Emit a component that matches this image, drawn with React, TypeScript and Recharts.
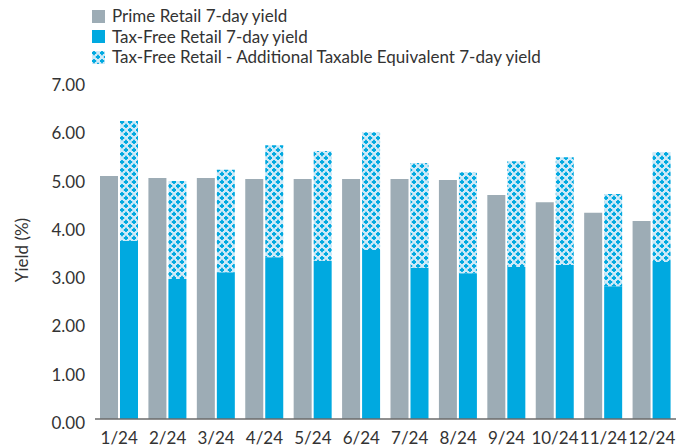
import React from "react"
import { BarChart, Bar, XAxis, YAxis } from "recharts"

const months = ["1/24", "2/24", "3/24", "4/24", "5/24", "6/24", "7/24", "8/24", "9/24", "10/24", "11/24", "12/24"]
const primeYield = [5.03, 4.99, 4.99, 4.97, 4.97, 4.97, 4.97, 4.95, 4.64, 4.49, 4.27, 4.10]
const taxFreeYield = [3.69, 2.90, 3.04, 3.35, 3.27, 3.50, 3.13, 3.02, 3.15, 3.19, 2.75, 3.25]
const additionalTaxEquivalent = [2.48, 2.03, 2.12, 2.32, 2.28, 2.44, 2.17, 2.09, 2.19, 2.23, 1.91, 2.28]
const yTicks = [0, 1, 2, 3, 4, 5, 6, 7]

const GRAY = "#9dacb5"
const BLUE = "#00a9e0"
const TEXT = "#333333"
const FONT = "Lato, 'Noto Sans', sans-serif"

const data = months.map((m, i) => ({
  month: m,
  prime: primeYield[i],
  taxFree: taxFreeYield[i],
  additional: additionalTaxEquivalent[i],
}))

const legendItems = [
  { label: "Prime Retail 7-day yield", fill: GRAY },
  { label: "Tax-Free Retail 7-day yield", fill: BLUE },
  { label: "Tax-Free Retail - Additional Taxable Equivalent 7-day yield", fill: "url(#dots)" },
]

// pattern for the taxable-equivalent part (light blue with blue plus dots)
const DotsPattern = ({ id }: { id: string }) => (
  <pattern id={id} patternUnits="userSpaceOnUse" width="8" height="8">
    <rect width="8" height="8" fill="#cfeaf8" />
    <path d="M1.1 -0.2h1.8v1.3h1.3v1.8H2.9v1.3H1.1V2.9H-0.2V1.1h1.3z" fill={BLUE} />
    <path d="M5.1 3.8h1.8v1.3h1.3v1.8H6.9v1.3H5.1V6.9H3.8V5.1h1.3z" fill={BLUE} />
  </pattern>
)

const ChartLegend = () => (
  <div
    style={{
      position: "absolute",
      top: 6,
      left: 92,
      fontFamily: FONT,
      fontSize: 17,
      color: TEXT,
      lineHeight: "20.5px",
      zIndex: 1,
    }}
  >
    {legendItems.map((item, i) => (
      <div key={item.label} style={{ display: "flex", alignItems: "center" }}>
        <svg width={13} height={13} style={{ marginRight: 7 }}>
          {i === 2 && (
            <defs>
              <DotsPattern id="legendDots" />
            </defs>
          )}
          <rect width={13} height={13} fill={i === 2 ? "url(#legendDots)" : item.fill} />
        </svg>
        <span>{item.label}</span>
      </div>
    ))}
  </div>
)

const YTick = ({ x, y, payload }: any) => (
  <text x={x} y={y + 4} dy="0.355em" textAnchor="end" fill={TEXT} fontSize={17} fontFamily={FONT}>
    {payload.value.toFixed(2)}
  </text>
)

export default function App() {
  return (
    <div style={{ position: "absolute", left: 0, top: 0, width: 684, height: 448, background: "#fff" }}>
      <ChartLegend />
      <BarChart
        width={684}
        height={448}
        data={data}
        margin={{ top: 81, right: 8, bottom: 0, left: 0 }}
        barGap={2}
        barCategoryGap="11%"
      >
        <defs>
          <DotsPattern id="dots" />
        </defs>
        <XAxis
          dataKey="month"
          height={29}
          tickSize={0}
          tickMargin={13}
          axisLine={{ stroke: "#6b6b6b", strokeWidth: 1.5 }}
          tick={{ fill: TEXT, fontSize: 17, fontFamily: FONT }}
          interval={0}
        />
        <YAxis
          width={95}
          domain={[0, 7]}
          ticks={yTicks}
          axisLine={false}
          tickLine={false}
          tickSize={0}
          tickMargin={10}
          tick={<YTick />}
          label={{
            value: "Yield (%)",
            angle: -90,
            position: "insideLeft",
            dx: 17,
            style: { textAnchor: "middle", fill: TEXT, fontSize: 17, fontFamily: FONT },
          }}
        />
        <Bar dataKey="prime" stackId="prime" fill={GRAY} isAnimationActive={false} barSize={18} />
        <Bar dataKey="taxFree" stackId="tf" fill={BLUE} isAnimationActive={false} barSize={18} />
        <Bar dataKey="additional" stackId="tf" fill="url(#dots)" isAnimationActive={false} barSize={18} />
      </BarChart>
    </div>
  )
}
